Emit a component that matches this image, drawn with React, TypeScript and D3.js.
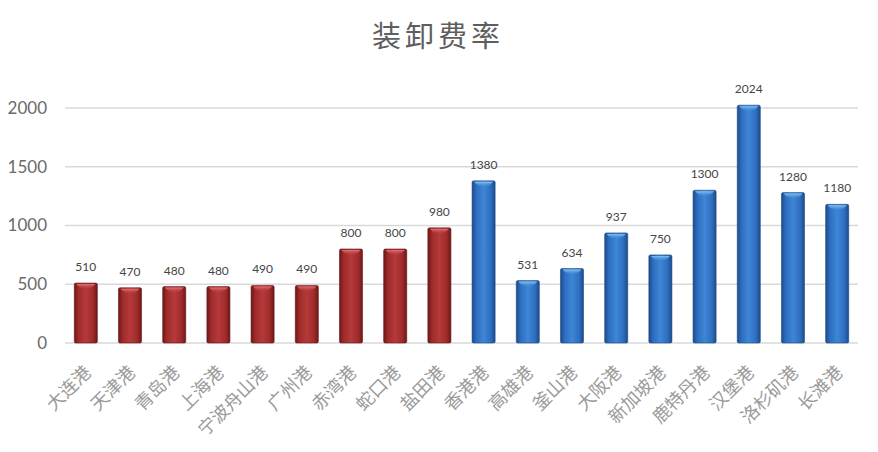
import React, { useEffect, useRef } from "react";
import * as d3 from "d3";

const title = "装卸费率";
const ports = [
  "大连港", "天津港", "青岛港", "上海港", "宁波舟山港", "广州港", "赤湾港", "蛇口港", "盐田港",
  "香港港", "高雄港", "釜山港", "大阪港", "新加坡港", "鹿特丹港", "汉堡港", "洛杉矶港", "长滩港",
];
const fees = [510, 470, 480, 480, 490, 490, 800, 800, 980, 1380, 531, 634, 937, 750, 1300, 2024, 1280, 1180];
const groups = ["cn", "cn", "cn", "cn", "cn", "cn", "cn", "cn", "cn", "int", "int", "int", "int", "int", "int", "int", "int", "int"];
const yTicks = [0, 500, 1000, 1500, 2000];

const W = 878;
const H = 452;

const palette: Record<string, { dark: string; base: string; light: string; cap: string }> = {
  cn: { dark: "#6a1818", base: "#a02a2a", light: "#b53a3a", cap: "#e4727c" },
  int: { dark: "#1c4a88", base: "#2d6dbf", light: "#3e86d6", cap: "#86c4f4" },
};

export default function App() {
  const ref = useRef<SVGSVGElement | null>(null);

  useEffect(() => {
    const svg = d3.select(ref.current);
    svg.selectAll("*").remove();

    const x = d3.scaleBand<string>().domain(ports).range([65, 858]).paddingInner(0.478).paddingOuter(0.21);
    const y = d3.scaleLinear().domain([0, 2000]).range([343, 108]);

    const defs = svg.append("defs");
    Object.entries(palette).forEach(([k, c]) => {
      const g = defs.append("linearGradient").attr("id", "grad-" + k).attr("x1", "0").attr("x2", "1").attr("y1", "0").attr("y2", "0");
      g.append("stop").attr("offset", "0%").attr("stop-color", c.dark);
      g.append("stop").attr("offset", "18%").attr("stop-color", c.base);
      g.append("stop").attr("offset", "50%").attr("stop-color", c.light);
      g.append("stop").attr("offset", "82%").attr("stop-color", c.base);
      g.append("stop").attr("offset", "100%").attr("stop-color", c.dark);
      const cg = defs.append("linearGradient").attr("id", "cap-" + k).attr("x1", "0").attr("x2", "0").attr("y1", "0").attr("y2", "1");
      cg.append("stop").attr("offset", "0%").attr("stop-color", c.cap).attr("stop-opacity", 1);
      cg.append("stop").attr("offset", "100%").attr("stop-color", c.light).attr("stop-opacity", 0);
    });

    svg.append("rect").attr("width", W).attr("height", H).attr("fill", "#ffffff");

    svg.append("text")
      .attr("x", 438).attr("y", 47)
      .attr("text-anchor", "middle")
      .attr("font-family", "'Noto Sans CJK SC', sans-serif")
      .attr("font-size", 29)
      .attr("letter-spacing", 4)
      .attr("fill", "#5e5e5e")
      .text(title);

    const grid = svg.append("g");
    yTicks.forEach((t) => {
      grid.append("line")
        .attr("x1", 65).attr("x2", 858)
        .attr("y1", y(t)).attr("y2", y(t))
        .attr("stroke", "#d9d9d9").attr("stroke-width", 1.5);
      grid.append("text")
        .attr("x", 47).attr("y", y(t))
        .attr("dy", "0.35em")
        .attr("text-anchor", "end")
        .attr("font-family", "Lato, 'Liberation Sans', sans-serif")
        .attr("font-size", 17)
        .attr("fill", "#6a6a6a")
        .text(String(t));
    });

    const bars = svg.append("g");
    ports.forEach((p, i) => {
      const v = fees[i];
      const k = groups[i];
      const bx = x(p) as number;
      const bw = x.bandwidth();
      const top = y(v);
      const h = y(0) - top;
      bars.append("rect")
        .attr("x", bx).attr("y", top)
        .attr("width", bw).attr("height", h)
        .attr("rx", 1.5)
        .attr("fill", `url(#grad-${k})`)
        .attr("stroke", palette[k].dark).attr("stroke-width", 0.6);
      bars.append("path")
        .attr("d", `M${bx + 2},${top + 1} L${bx + bw - 2},${top + 1} Q${bx + bw / 2},${top + 12} ${bx + 2},${top + 1} Z`)
        .attr("fill", `url(#cap-${k})`);
      bars.append("text")
        .attr("x", bx + bw / 2).attr("y", top - 12)
        .attr("text-anchor", "middle")
        .attr("font-family", "Lato, 'Liberation Sans', sans-serif")
        .attr("font-size", 12)
        .attr("fill", "#454545")
        .text(String(v));
      const cx = bx + bw / 2 + 2;
      bars.append("text")
        .attr("transform", `translate(${cx},${369}) rotate(-45)`)
        .attr("text-anchor", "end")
        .attr("dy", "0.35em")
        .attr("font-family", "'Noto Sans CJK SC', sans-serif")
        .attr("font-size", 18)
        .attr("fill", "#9a9a9a")
        .text(p);
    });
  }, []);

  return (
    <svg
      ref={ref}
      width={W}
      height={H}
      style={{ position: "absolute", left: 0, top: 0, display: "block" }}
    />
  );
}
